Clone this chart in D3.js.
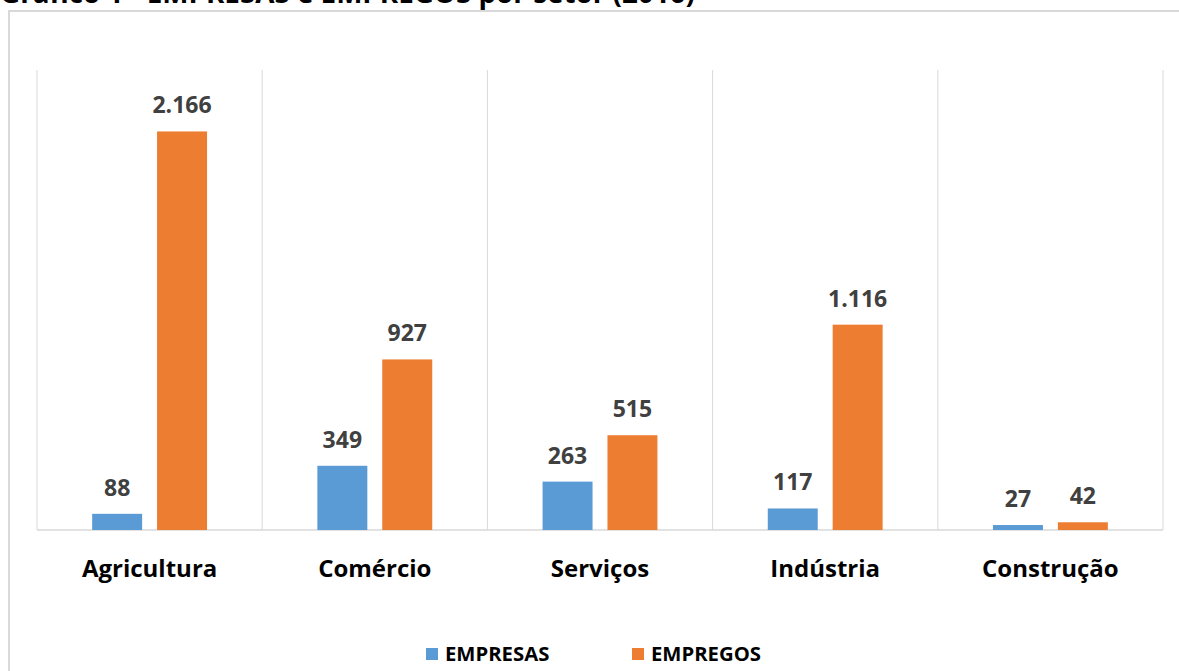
<!DOCTYPE html>
<html><head><meta charset="utf-8">
<script src="https://cdn.jsdelivr.net/npm/d3@7"></script>
<style>body{margin:0;background:#fff;font-family:"Open Sans",sans-serif;}</style>
</head><body><svg id="c" width="1179" height="671"></svg>
<script>
const categories = ["Agricultura","Comércio","Serviços","Indústria","Construção"];
const empresas = [88,349,263,117,27];
const empregos = [2166,927,515,1116,42];
const labels = ["2.166","927","515","1.116","42"];
const empresasLabels = ["88","349","263","117","27"];
const seriesNames = ["EMPRESAS","EMPREGOS"];
const colors = ["#5b9bd5","#ed7d31"];
const title = "Gráfico 1 - EMPRESAS e EMPREGOS por setor (2016)";

const svg = d3.select("#c");
svg.append("text").attr("x",0).attr("y",3).attr("font-size",27.8).attr("font-weight","bold").attr("fill","#000").text(title);
svg.append("rect").attr("x",9).attr("y",11).attr("width",1180).attr("height",680).attr("fill","none").attr("stroke","#d9d9d9").attr("stroke-width",2);

const pLeft=37,pRight=1163,pTop=70,pBottom=530;
const x = d3.scaleBand().domain(categories).range([pLeft,pRight]);
const x1 = d3.scaleBand().domain(seriesNames).range([0,x.bandwidth()]).paddingInner(0.23).paddingOuter(0.85);
const y = d3.scaleLinear().domain([0,2500]).range([pBottom,pTop]);

const g = svg.append("g");
const bounds = categories.map(c=>x(c)).concat([pRight]);
g.selectAll("line.v").data(bounds).join("line").attr("x1",d=>d).attr("x2",d=>d).attr("y1",pTop).attr("y2",pBottom).attr("stroke","#d9d9d9").attr("stroke-width",1);
g.append("line").attr("x1",pLeft).attr("x2",pRight).attr("y1",pBottom).attr("y2",pBottom).attr("stroke","#d9d9d9").attr("stroke-width",1.5);

const data = categories.map((c,i)=>({c, vals:[{s:seriesNames[0],v:empresas[i],l:empresasLabels[i]},{s:seriesNames[1],v:empregos[i],l:labels[i]}]}));
const cg = svg.selectAll("g.cat").data(data).join("g").attr("transform",d=>`translate(${x(d.c)},0)`);
cg.selectAll("rect").data(d=>d.vals).join("rect")
  .attr("x",d=>x1(d.s)).attr("width",x1.bandwidth())
  .attr("y",d=>y(d.v)).attr("height",d=>pBottom-y(d.v))
  .attr("fill",(d,i)=>colors[i]);
cg.selectAll("text.v").data(d=>d.vals).join("text").attr("class","v")
  .attr("x",d=>x1(d.s)+x1.bandwidth()/2).attr("y",d=>y(d.v)-18)
  .attr("text-anchor","middle").attr("font-size",23).attr("font-weight","bold").attr("fill","#404040")
  .text(d=>d.l);
svg.selectAll("text.cat").data(categories).join("text").attr("class","cat")
  .attr("x",d=>x(d)+x.bandwidth()/2).attr("y",577).attr("text-anchor","middle")
  .attr("font-size",24).attr("font-weight","bold").attr("fill","#000").text(d=>d);

const lg = svg.append("g");
const lx=[426,632];
seriesNames.forEach((s,i)=>{
  lg.append("rect").attr("x",lx[i]).attr("y",648).attr("width",12).attr("height",12).attr("fill",colors[i]);
  lg.append("text").attr("x",lx[i]+19).attr("y",661).attr("font-size",20.3).attr("font-weight","bold").attr("fill","#000").text(s);
});
</script></body></html>
